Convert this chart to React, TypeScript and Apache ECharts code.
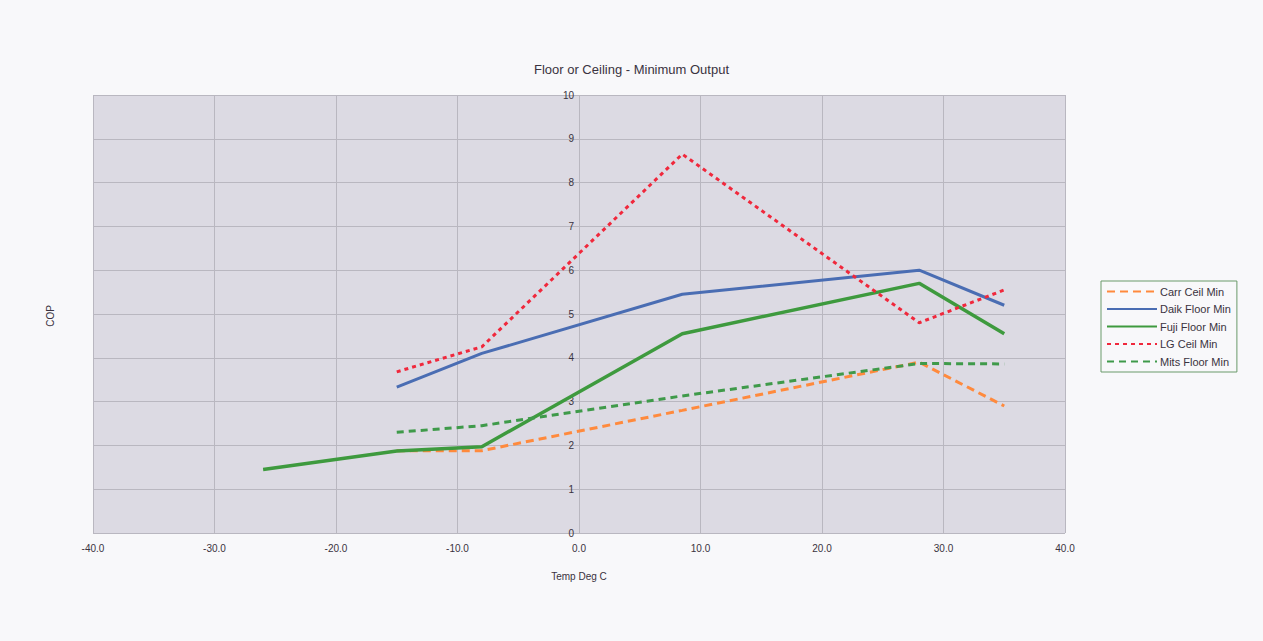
import React, { useEffect, useRef } from "react";
import * as echarts from "echarts";

const seriesNames = ["Carr Ceil Min", "Daik Floor Min", "Fuji Floor Min", "LG Ceil Min", "Mits Floor Min"];

const carrTemps = [-15, -8, 8.5, 28, 35];
const carrCop = [1.88, 1.88, 2.8, 3.9, 2.9];

const daikTemps = [-15, -8, 8.5, 28, 35];
const daikCop = [3.33, 4.1, 5.45, 6.0, 5.2];

const fujiTemps = [-26, -15, -8, 8.5, 28, 35];
const fujiCop = [1.45, 1.87, 1.97, 4.55, 5.7, 4.55];

const lgTemps = [-15, -8, 8.5, 28, 35];
const lgCop = [3.68, 4.25, 8.65, 4.8, 5.55];

const mitsTemps = [-15, -8, 8.5, 28, 35];
const mitsCop = [2.3, 2.45, 3.13, 3.87, 3.86];

const xTicks = { min: -40, max: 40, step: 10 };
const yTicks = { min: 0, max: 10, step: 1 };

const zip = (xs: number[], ys: number[]) => xs.map((x, i) => [x, ys[i]]);

const GRID_LEFT = 93;
const GRID_RIGHT = 198;
const CHART_W = 1263;

export default function App() {
  const ref = useRef<HTMLDivElement>(null);
  useEffect(() => {
    if (!ref.current) return;
    const chart = echarts.init(ref.current, undefined, { renderer: "svg" });
    const font = "'Liberation Sans', Arial, sans-serif";
    const plotW = CHART_W - GRID_LEFT - GRID_RIGHT;
    // place the y axis where x = 0 (the axis crosses at zero)
    const yOffset = -plotW * ((0 - xTicks.min) / (xTicks.max - xTicks.min));
    const mk = (name: string, data: number[][], color: string, type: any, width: number) => ({
      name,
      type: "line",
      data,
      symbol: "none",
      lineStyle: { color, width, type, cap: "butt" },
      itemStyle: { color },
    });
    chart.setOption({
      animation: false,
      backgroundColor: "#f8f8fa",
      title: {
        text: "Floor or Ceiling - Minimum Output",
        left: "center",
        top: 58,
        textStyle: { fontFamily: font, fontSize: 13, fontWeight: "normal", color: "#3a3340" },
      },
      legend: {
        orient: "vertical",
        left: 1101,
        top: 281,
        width: 136,
        borderColor: "#6a9a6a",
        borderWidth: 1,
        padding: [5, 6, 5, 5],
        itemWidth: 50,
        itemHeight: 10,
        itemGap: 6.5,
        backgroundColor: "#f8f8fa",
        itemStyle: { opacity: 0 },
        textStyle: { fontFamily: font, fontSize: 11, color: "#3a3340", padding: [0, 0, 0, -2] },
        data: seriesNames,
      },
      grid: {
        left: GRID_LEFT,
        right: GRID_RIGHT,
        top: 95,
        bottom: 108,
        show: true,
        backgroundColor: "#dcdae3",
        borderWidth: 0,
      },
      xAxis: {
        type: "value",
        min: xTicks.min,
        max: xTicks.max,
        interval: xTicks.step,
        name: "Temp Deg C",
        nameLocation: "middle",
        nameGap: 38,
        nameTextStyle: { fontFamily: font, fontSize: 10, color: "#3a3340" },
        axisLine: { show: false, onZero: false },
        axisTick: { show: false },
        axisLabel: {
          fontFamily: font,
          fontSize: 10,
          color: "#3a3340",
          margin: 10,
          formatter: (v: number) => v.toFixed(1),
        },
        splitLine: { show: true, lineStyle: { color: "#b9b7c0", width: 1 } },
      },
      yAxis: {
        type: "value",
        position: "left",
        offset: yOffset,
        min: yTicks.min,
        max: yTicks.max,
        interval: yTicks.step,
        axisLine: { show: false, onZero: false },
        axisTick: { show: false },
        axisLabel: { fontFamily: font, fontSize: 10, color: "#3a3340", margin: 5 },
        splitLine: { show: true, lineStyle: { color: "#b9b7c0", width: 1 } },
      },
      graphic: [
        {
          type: "text",
          x: 50,
          y: 316,
          rotation: Math.PI / 2,
          style: {
            text: "COP",
            fontFamily: font,
            fontSize: 10,
            fill: "#3a3340",
            align: "center",
            verticalAlign: "middle",
          },
        },
      ],
      series: [
        mk(seriesNames[0], zip(carrTemps, carrCop), "#ff8a3d", [8, 5], 3),
        mk(seriesNames[1], zip(daikTemps, daikCop), "#4a6db3", "solid", 3),
        mk(seriesNames[2], zip(fujiTemps, fujiCop), "#3e9a3e", "solid", 3.5),
        mk(seriesNames[3], zip(lgTemps, lgCop), "#f0283c", [4, 4], 3),
        mk(seriesNames[4], zip(mitsTemps, mitsCop), "#3f9a4a", [7, 5], 3),
      ],
    });
    return () => chart.dispose();
  }, []);
  return (
    <div
      ref={ref}
      style={{ position: "absolute", left: 0, top: 0, width: CHART_W, height: 641 }}
    />
  );
}
